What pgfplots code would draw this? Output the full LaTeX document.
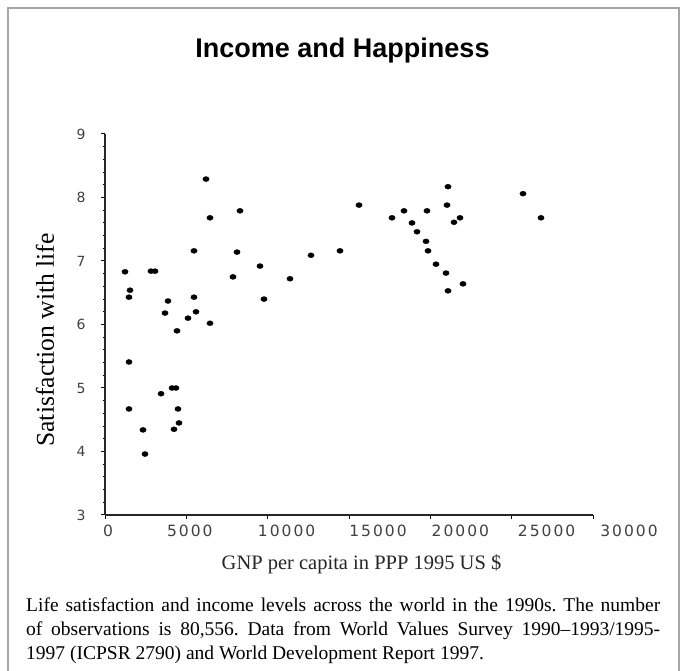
\documentclass[border=0pt]{standalone}
\usepackage{fontspec}
\setmainfont{Liberation Serif}
\newfontfamily\titlefont{Liberation Sans}
\newfontfamily\xtickfont[LetterSpace=13]{DejaVu Sans}
\newfontfamily\ytickfont{DejaVu Sans}
\usepackage{pgfplots}
\pgfplotsset{compat=1.18}
\frenchspacing
\begin{document}
\begin{tikzpicture}
\useasboundingbox (0pt,0pt) rectangle (686pt,670pt);
% frame
\draw[gray!70, line width=1.5pt] (8pt,-2pt) -- (8pt,662pt) -- (679pt,662pt) -- (679pt,-2pt);
\begin{axis}[
  at={(105pt,155pt)}, anchor=origin,
  scale only axis, width=488pt, height=381pt,
  xmin=0, xmax=30000, ymin=3, ymax=9,
  axis lines=left,
  axis line style={-, line width=1.2pt, black!85},
  scaled x ticks=false,
  xtick={0,5000,10000,15000,20000,25000,30000},
  xticklabels={{\hspace{6pt}0},{\hspace{7pt}5000},{\hspace{38pt}10000},{\hspace{58pt}15000},{\hspace{60pt}20000},{\hspace{70pt}25000},{\hspace{72pt}30000}},
  ytick={3,4,5,6,7,8,9},
  yticklabels={3,4,5,6,7,8,9},
  minor y tick num=4,
  tick align=outside,
  major tick length=4pt, minor tick length=2.5pt,
  every tick/.style={black, line width=1pt},
  xticklabel style={font=\xtickfont\fontsize{15.5}{18}\selectfont, text=black!75, inner sep=0pt, anchor=north, yshift=-6pt},
  yticklabel style={font=\ytickfont\fontsize{14}{16}\selectfont, text=black!75, inner sep=0pt, anchor=center, xshift=-20pt},
  clip=false,
]
\addplot[only marks, mark=*, mark size=2.5pt, mark options={xscale=1.25, fill=black, draw=black}] coordinates {
(6209,8.29) (8299,7.79) (6455,7.68) (5471,7.16) (8115,7.14)
(1230,6.83) (2828,6.84) (3074,6.84) (7869,6.75) (1537,6.54)
(1475,6.43) (3873,6.37) (5471,6.43) (3689,6.18) (5594,6.20)
(5102,6.10) (6455,6.02) (4426,5.90) (1475,5.41) (4119,5.00)
(4365,5.00) (3443,4.91) (1475,4.67) (4488,4.67) (4549,4.45)
(2336,4.34) (4242,4.35) (2459,3.96) (15615,7.88) (17643,7.68)
(18381,7.79) (19795,7.79) (18873,7.60) (19180,7.46) (19734,7.31)
(19857,7.16) (9529,6.92) (12664,7.09) (14447,7.16) (11373,6.72)
(9775,6.40) (21086,8.17) (21025,7.88) (21824,7.68) (21455,7.61)
(20348,6.95) (20963,6.81) (22008,6.64) (21086,6.53) (25697,8.06)
(26803,7.68)
};
\end{axis}
% title
\node[anchor=base, font=\titlefont\bfseries\fontsize{27}{32}\selectfont] at (342.5pt,612pt) {Income and Happiness};
% y label
\node[rotate=90, anchor=center, font=\fontsize{25.6}{30}\selectfont] at (45pt,330pt) {Satisfaction with life};
% x label
\node[anchor=base, font=\fontsize{20.5}{24}\selectfont, text=black!85] at (361.5pt,100.5pt) {GNP per capita in PPP 1995 US \$};
% caption
\begin{scope}[every node/.style={anchor=base west, inner sep=0pt, font=\fontsize{19.5}{22}\selectfont}]
\node at (26pt,58pt) {\makebox[634pt][s]{Life satisfaction and income levels across the world in the 1990s. The number}};
\node at (26pt,34.5pt) {\makebox[634pt][s]{of observations is 80,556. Data from World Values Survey 1990--1993/1995-}};
\node at (26pt,11pt) {1997 (ICPSR 2790) and World Development Report 1997.};
\end{scope}
\end{tikzpicture}
\end{document}
